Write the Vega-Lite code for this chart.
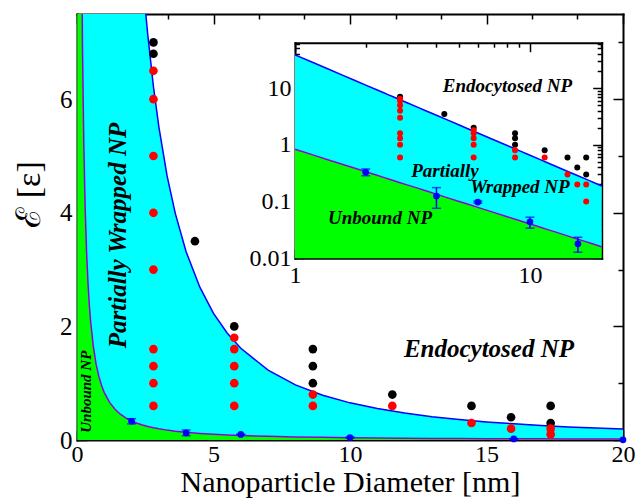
{
  "$schema": "https://vega.github.io/schema/vega-lite/v6.json",
  "width": 546,
  "height": 426,
  "autosize": "none",
  "padding": {"left": 77, "top": 14, "right": 14, "bottom": 58},
  "background": "white",
  "config": {
    "font": "Liberation Serif",
    "axis": {
      "grid": false,
      "labelFont": "Liberation Serif",
      "titleFont": "Liberation Serif",
      "labelColor": "#000000",
      "titleColor": "#000000",
      "tickColor": "#000000",
      "domainColor": "#000000",
      "domainCap": "square",
      "titleFontWeight": "normal",
      "labelOverlap": false,
      "labelFlush": false,
      "zindex": 2
    },
    "view": {"stroke": null},
    "text": {"font": "Liberation Serif", "fontStyle": "italic", "fontWeight": "bold", "color": "#000000"}
  },
  "datasets": {
    "curve": [
      {"d": 0.01, "lower": 358},
      {"d": 0.05, "lower": 43.0},
      {"d": 0.1, "lower": 17.28},
      {"d": 0.15, "lower": 10.14, "upper": 1106},
      {"d": 0.2, "lower": 6.94, "upper": 664.6},
      {"d": 0.25, "lower": 5.18, "upper": 447.8},
      {"d": 0.3, "lower": 4.07, "upper": 324.4},
      {"d": 0.35, "lower": 3.32, "upper": 246.9},
      {"d": 0.4, "lower": 2.79, "upper": 194.9},
      {"d": 0.45, "lower": 2.39, "upper": 158.2},
      {"d": 0.5, "lower": 2.08, "upper": 131.3},
      {"d": 0.6, "lower": 1.64, "upper": 95.1},
      {"d": 0.7, "lower": 1.335, "upper": 72.4},
      {"d": 0.8, "lower": 1.12, "upper": 57.1},
      {"d": 0.9, "lower": 0.959, "upper": 46.4},
      {"d": 1.0, "lower": 0.835, "upper": 38.5},
      {"d": 1.2, "lower": 0.657, "upper": 27.88},
      {"d": 1.4, "lower": 0.536, "upper": 21.22},
      {"d": 1.6, "lower": 0.45, "upper": 16.76},
      {"d": 1.8, "lower": 0.385, "upper": 13.6},
      {"d": 2.0, "lower": 0.335, "upper": 11.29},
      {"d": 2.2, "lower": 0.296, "upper": 9.54},
      {"d": 2.4, "lower": 0.264, "upper": 8.18},
      {"d": 2.5, "lower": 0.25, "upper": 7.6},
      {"d": 2.6, "lower": 0.237, "upper": 7.1},
      {"d": 2.8, "lower": 0.215, "upper": 6.22},
      {"d": 3.0, "lower": 0.197, "upper": 5.51},
      {"d": 3.3, "lower": 0.174, "upper": 4.65},
      {"d": 3.6, "lower": 0.155, "upper": 3.99},
      {"d": 4.0, "lower": 0.135, "upper": 3.31},
      {"d": 4.5, "lower": 0.115, "upper": 2.69},
      {"d": 5.0, "lower": 0.1, "upper": 2.23},
      {"d": 5.5, "lower": 0.0886, "upper": 1.883},
      {"d": 6.0, "lower": 0.079, "upper": 1.615},
      {"d": 7.0, "lower": 0.0645, "upper": 1.23},
      {"d": 8.0, "lower": 0.0541, "upper": 0.971},
      {"d": 9.0, "lower": 0.0463, "upper": 0.788},
      {"d": 10.0, "lower": 0.0403, "upper": 0.654},
      {"d": 11.0, "lower": 0.0356, "upper": 0.553},
      {"d": 12.0, "lower": 0.0317, "upper": 0.474},
      {"d": 13.0, "lower": 0.0286, "upper": 0.411},
      {"d": 14.0, "lower": 0.0259, "upper": 0.36},
      {"d": 15.0, "lower": 0.0236, "upper": 0.319},
      {"d": 16.0, "lower": 0.0217, "upper": 0.2845},
      {"d": 17.0, "lower": 0.0201, "upper": 0.2555},
      {"d": 18.0, "lower": 0.0186, "upper": 0.231},
      {"d": 19.0, "lower": 0.0173, "upper": 0.2099},
      {"d": 20.0, "lower": 0.0162, "upper": 0.1917},
      {"d": 20.2, "lower": 0.016, "upper": 0.1883}
    ],
    "sims": [
      {"d": 2.8, "E": 7.0, "state": "endocytosed"},
      {"d": 2.8, "E": 6.8, "state": "endocytosed"},
      {"d": 4.32, "E": 3.5, "state": "endocytosed"},
      {"d": 5.76, "E": 2.0, "state": "endocytosed"},
      {"d": 8.64, "E": 1.6, "state": "endocytosed"},
      {"d": 8.64, "E": 1.3, "state": "endocytosed"},
      {"d": 8.64, "E": 1.0, "state": "endocytosed"},
      {"d": 11.55, "E": 0.8, "state": "endocytosed"},
      {"d": 14.45, "E": 0.6, "state": "endocytosed"},
      {"d": 15.9, "E": 0.4, "state": "endocytosed"},
      {"d": 17.35, "E": 0.6, "state": "endocytosed"},
      {"d": 17.35, "E": 0.3, "state": "endocytosed"},
      {"d": 2.8, "E": 6.5, "state": "wrapped"},
      {"d": 2.8, "E": 6.0, "state": "wrapped"},
      {"d": 2.8, "E": 5.0, "state": "wrapped"},
      {"d": 2.8, "E": 4.0, "state": "wrapped"},
      {"d": 2.8, "E": 3.0, "state": "wrapped"},
      {"d": 2.8, "E": 1.6, "state": "wrapped"},
      {"d": 2.8, "E": 1.3, "state": "wrapped"},
      {"d": 2.8, "E": 1.0, "state": "wrapped"},
      {"d": 2.8, "E": 0.6, "state": "wrapped"},
      {"d": 5.76, "E": 1.8, "state": "wrapped"},
      {"d": 5.76, "E": 1.6, "state": "wrapped"},
      {"d": 5.76, "E": 1.3, "state": "wrapped"},
      {"d": 5.76, "E": 1.0, "state": "wrapped"},
      {"d": 5.76, "E": 0.6, "state": "wrapped"},
      {"d": 8.64, "E": 0.8, "state": "wrapped"},
      {"d": 8.64, "E": 0.6, "state": "wrapped"},
      {"d": 11.55, "E": 0.6, "state": "wrapped"},
      {"d": 14.45, "E": 0.3, "state": "wrapped"},
      {"d": 15.9, "E": 0.2, "state": "wrapped"},
      {"d": 17.35, "E": 0.2, "state": "wrapped"},
      {"d": 17.35, "E": 0.1, "state": "wrapped"}
    ],
    "unbound": [
      {"d": 2, "E": 0.33, "lo": 0.285, "hi": 0.375},
      {"d": 4, "E": 0.125, "lo": 0.076, "hi": 0.176},
      {"d": 6, "E": 0.098, "lo": 0.094, "hi": 0.102},
      {"d": 10, "E": 0.044, "lo": 0.034, "hi": 0.053},
      {"d": 16, "E": 0.018, "lo": 0.0128, "hi": 0.0235},
      {"d": 20, "E": 0.004}
    ]
  },
  "layer": [
    {
      "layer": [
        {
          "data": {"name": "curve"},
          "mark": {"type": "area", "color": "#00ff00", "clip": true},
          "encoding": {
            "x": {"field": "d", "type": "quantitative", "scale": {"domain": [0, 20], "nice": false, "zero": false},
              "axis": {"orient": "bottom", "values": [0, 5, 10, 15, 20], "format": "d", "ticks": false, "domain": true, "domainWidth": 2, "labelFont": "Liberation Serif", "labelFontSize": 24, "labelPadding": 2, "title": "Nanoparticle Diameter [nm]", "titleFont": "Liberation Serif", "titleFontSize": 30, "titleBaseline": "alphabetic", "titleY": 51}},
            "y": {"field": "lower", "type": "quantitative", "scale": {"domain": [0, 7.5], "nice": false},
              "axis": {"orient": "left", "values": [0, 2, 4, 6], "format": "d", "ticks": false, "domain": true, "domainWidth": 2, "labelFont": "Liberation Serif", "labelFontSize": 25, "labelPadding": 5, "title": "ℰ [ε]", "titleFont": "Liberation Serif", "titleFontSize": 34, "titleAlign": "center", "titleBaseline": "alphabetic", "titleAngle": 270, "titleX": -38, "titleY": 180}},
            "y2": {"datum": 0}
          }
        },
        {
          "data": {"name": "curve"},
          "mark": {"type": "area", "color": "#00ffff", "clip": true},
          "encoding": {
            "x": {"field": "d", "type": "quantitative", "scale": {"domain": [0, 20], "nice": false, "zero": false},
              "axis": {"orient": "bottom", "values": [0, 5, 10, 15, 20], "labels": false, "domain": false, "tickSize": -10, "tickWidth": 1.5, "title": null}},
            "y": {"field": "upper", "type": "quantitative", "scale": {"domain": [0, 7.5], "nice": false},
              "axis": {"orient": "left", "values": [0, 2, 4, 6], "labels": false, "domain": false, "tickSize": -10, "tickWidth": 1.5, "title": null}},
            "y2": {"field": "lower"}
          }
        },
        {
          "data": {"name": "curve"},
          "mark": {"type": "line", "color": "#0000ff", "strokeWidth": 1.5, "clip": true},
          "encoding": {
            "x": {"field": "d", "type": "quantitative", "scale": {"domain": [0, 20], "nice": false, "zero": false},
              "axis": {"orient": "bottom", "values": [1.667, 3.333, 6.667, 8.333, 11.667, 13.333, 16.667, 18.333], "labels": false, "domain": false, "tickSize": -5, "tickWidth": 1.5, "title": null}},
            "y": {"field": "upper", "type": "quantitative", "scale": {"domain": [0, 7.5], "nice": false},
              "axis": {"orient": "left", "values": [1, 3, 5, 7], "labels": false, "domain": false, "tickSize": -5, "tickWidth": 1.5, "title": null}}
          }
        },
        {
          "data": {"name": "curve"},
          "mark": {"type": "line", "color": "#9400d3", "strokeWidth": 1.5, "clip": true},
          "encoding": {
            "x": {"field": "d", "type": "quantitative", "scale": {"domain": [0, 20], "nice": false, "zero": false},
              "axis": {"orient": "top", "values": [0, 5, 10, 15, 20], "labels": false, "domain": true, "domainWidth": 2, "tickSize": -10, "tickWidth": 1.5, "title": null}},
            "y": {"field": "lower", "type": "quantitative", "scale": {"domain": [0, 7.5], "nice": false},
              "axis": {"orient": "right", "values": [0, 2, 4, 6], "labels": false, "domain": true, "domainWidth": 2, "tickSize": -10, "tickWidth": 1.5, "title": null}}
          }
        },
        {
          "data": {"name": "sims"},
          "mark": {"type": "circle", "size": 75, "opacity": 1},
          "encoding": {
            "x": {"field": "d", "type": "quantitative", "scale": {"domain": [0, 20], "nice": false, "zero": false},
              "axis": {"orient": "top", "values": [1.667, 3.333, 6.667, 8.333, 11.667, 13.333, 16.667, 18.333], "labels": false, "domain": false, "tickSize": -5, "tickWidth": 1.5, "title": null}},
            "y": {"field": "E", "type": "quantitative", "scale": {"domain": [0, 7.5], "nice": false},
              "axis": {"orient": "right", "values": [1, 3, 5, 7], "labels": false, "domain": false, "tickSize": -5, "tickWidth": 1.5, "title": null}},
            "color": {"field": "state", "type": "nominal", "scale": {"domain": ["endocytosed", "wrapped"], "range": ["#000000", "#ff0000"]}, "legend": null}
          }
        },
        {
          "data": {"name": "unbound"},
          "transform": [{"filter": "datum.lo != null"}],
          "mark": {"type": "errorbar", "color": "#0000ff", "thickness": 1.5, "ticks": {"size": 9, "color": "#0000ff"}},
          "encoding": {
            "x": {"field": "d", "type": "quantitative", "axis": null},
            "y": {"field": "lo", "type": "quantitative", "axis": null},
            "y2": {"field": "hi"}
          }
        },
        {
          "data": {"name": "unbound"},
          "mark": {"type": "circle", "size": 45, "opacity": 1, "color": "#0000ff"},
          "encoding": {
            "x": {"field": "d", "type": "quantitative", "axis": null},
            "y": {"field": "E", "type": "quantitative", "axis": null}
          }
        },
        {
          "data": {"values": [{}]},
          "mark": {"type": "text", "text": "Partially Wrapped NP", "angle": 270, "fontSize": 25, "align": "center", "baseline": "alphabetic"},
          "encoding": {
            "x": {"datum": 1.795, "type": "quantitative", "axis": null},
            "y": {"datum": 3.6, "type": "quantitative", "axis": null}
          }
        },
        {
          "data": {"values": [{}]},
          "mark": {"type": "text", "text": "Unbound NP", "angle": 270, "fontSize": 15, "align": "center", "baseline": "alphabetic"},
          "encoding": {
            "x": {"datum": 0.53, "type": "quantitative", "axis": null},
            "y": {"datum": 0.85, "type": "quantitative", "axis": null}
          }
        },
        {
          "data": {"values": [{}]},
          "mark": {"type": "text", "text": "Endocytosed NP", "fontSize": 25, "align": "center", "baseline": "alphabetic"},
          "encoding": {
            "x": {"datum": 15.09, "type": "quantitative", "axis": null},
            "y": {"datum": 1.46, "type": "quantitative", "axis": null}
          }
        }
      ],
      "resolve": {"axis": {"x": "independent", "y": "independent"}}
    },
    {
      "layer": [
        {
          "data": {"name": "curve"},
          "transform": [{"filter": "datum.d >= 1"}],
          "mark": {"type": "area", "color": "#00ff00"},
          "encoding": {
            "x": {"field": "d", "type": "quantitative", "scale": {"type": "log", "domain": [1, 20.2], "range": [218, 524.7], "nice": false},
              "axis": {"orient": "bottom", "offset": -181.7, "values": [1, 10], "format": "~g", "ticks": false, "domain": true, "domainWidth": 2, "labelFont": "Liberation Serif", "labelFontSize": 24, "labelPadding": 5, "title": null}},
            "y": {"field": "lower", "type": "quantitative", "scale": {"type": "log", "domain": [0.01, 63], "range": [244.3, 28.7], "nice": false},
              "axis": {"orient": "left", "offset": -218, "values": [0.01, 0.1, 1, 10], "format": "~g", "ticks": false, "domain": true, "domainWidth": 2, "labelFont": "Liberation Serif", "labelFontSize": 24, "labelPadding": 4, "title": null}},
            "y2": {"datum": 0.01}
          }
        },
        {
          "data": {"name": "curve"},
          "transform": [{"filter": "datum.d >= 1"}],
          "mark": {"type": "area", "color": "#00ffff"},
          "encoding": {
            "x": {"field": "d", "type": "quantitative", "scale": {"type": "log", "domain": [1, 20.2], "range": [218, 524.7], "nice": false},
              "axis": {"orient": "bottom", "offset": -181.7, "values": [1, 10], "labels": false, "domain": false, "tickSize": -9, "tickWidth": 1.5, "title": null}},
            "y": {"field": "upper", "type": "quantitative", "scale": {"type": "log", "domain": [0.01, 63], "range": [244.3, 28.7], "nice": false},
              "axis": {"orient": "left", "offset": -218, "values": [0.01, 0.1, 1, 10], "labels": false, "domain": false, "tickSize": -9, "tickWidth": 1.5, "title": null}},
            "y2": {"field": "lower"}
          }
        },
        {
          "data": {"name": "curve"},
          "transform": [{"filter": "datum.d >= 1"}],
          "mark": {"type": "line", "color": "#0000ff", "strokeWidth": 1.5},
          "encoding": {
            "x": {"field": "d", "type": "quantitative", "scale": {"type": "log", "domain": [1, 20.2], "range": [218, 524.7], "nice": false},
              "axis": {"orient": "bottom", "offset": -181.7, "values": [2, 3, 4, 5, 6, 7, 8, 9, 20], "labels": false, "domain": false, "tickSize": -4.5, "tickWidth": 1.5, "title": null}},
            "y": {"field": "upper", "type": "quantitative", "scale": {"type": "log", "domain": [0.01, 63], "range": [244.3, 28.7], "nice": false},
              "axis": {"orient": "left", "offset": -218, "values": [0.02, 0.03, 0.04, 0.05, 0.06, 0.07, 0.08, 0.09, 0.2, 0.3, 0.4, 0.5, 0.6, 0.7, 0.8, 0.9, 2, 3, 4, 5, 6, 7, 8, 9, 20, 30, 40, 50, 60], "labels": false, "domain": false, "tickSize": -4.5, "tickWidth": 1.5, "title": null}}
          }
        },
        {
          "data": {"name": "curve"},
          "transform": [{"filter": "datum.d >= 1"}],
          "mark": {"type": "line", "color": "#9400d3", "strokeWidth": 1.5},
          "encoding": {
            "x": {"field": "d", "type": "quantitative", "scale": {"type": "log", "domain": [1, 20.2], "range": [218, 524.7], "nice": false},
              "axis": {"orient": "top", "offset": -28.7, "values": [1, 10], "labels": false, "domain": true, "domainWidth": 2, "tickSize": -9, "tickWidth": 1.5, "title": null}},
            "y": {"field": "lower", "type": "quantitative", "scale": {"type": "log", "domain": [0.01, 63], "range": [244.3, 28.7], "nice": false},
              "axis": {"orient": "right", "offset": -21.3, "values": [0.01, 0.1, 1, 10], "labels": false, "domain": true, "domainWidth": 2, "tickSize": -9, "tickWidth": 1.5, "title": null}}
          }
        },
        {
          "data": {"name": "sims"},
          "mark": {"type": "circle", "size": 36, "opacity": 1},
          "encoding": {
            "x": {"field": "d", "type": "quantitative", "scale": {"type": "log", "domain": [1, 20.2], "range": [218, 524.7], "nice": false},
              "axis": {"orient": "top", "offset": -28.7, "values": [2, 3, 4, 5, 6, 7, 8, 9, 20], "labels": false, "domain": false, "tickSize": -4.5, "tickWidth": 1.5, "title": null}},
            "y": {"field": "E", "type": "quantitative", "scale": {"type": "log", "domain": [0.01, 63], "range": [244.3, 28.7], "nice": false},
              "axis": {"orient": "right", "offset": -21.3, "values": [0.02, 0.03, 0.04, 0.05, 0.06, 0.07, 0.08, 0.09, 0.2, 0.3, 0.4, 0.5, 0.6, 0.7, 0.8, 0.9, 2, 3, 4, 5, 6, 7, 8, 9, 20, 30, 40, 50, 60], "labels": false, "domain": false, "tickSize": -4.5, "tickWidth": 1.5, "title": null}},
            "color": {"field": "state", "type": "nominal", "scale": {"domain": ["endocytosed", "wrapped"], "range": ["#000000", "#ff0000"]}, "legend": null}
          }
        },
        {
          "data": {"name": "unbound"},
          "transform": [{"filter": "datum.lo != null && datum.E >= 0.01"}],
          "mark": {"type": "errorbar", "color": "#0000ff", "thickness": 1.5, "ticks": {"size": 9, "color": "#0000ff"}},
          "encoding": {
            "x": {"field": "d", "type": "quantitative", "scale": {"type": "log"}, "axis": null},
            "y": {"field": "lo", "type": "quantitative", "scale": {"type": "log"}, "axis": null},
            "y2": {"field": "hi"}
          }
        },
        {
          "data": {"name": "unbound"},
          "transform": [{"filter": "datum.E >= 0.01"}],
          "mark": {"type": "circle", "size": 45, "opacity": 1, "color": "#0000ff"},
          "encoding": {
            "x": {"field": "d", "type": "quantitative", "scale": {"type": "log"}, "axis": null},
            "y": {"field": "E", "type": "quantitative", "scale": {"type": "log"}, "axis": null}
          }
        },
        {
          "data": {"values": [{}]},
          "mark": {"type": "text", "text": "Endocytosed NP", "fontSize": 19, "align": "center", "baseline": "alphabetic"},
          "encoding": {
            "x": {"datum": 8.02, "type": "quantitative", "scale": {"type": "log"}, "axis": null},
            "y": {"datum": 8.49, "type": "quantitative", "scale": {"type": "log"}, "axis": null}
          }
        },
        {
          "data": {"values": [{}]},
          "mark": {"type": "text", "text": "Partially", "fontSize": 19, "align": "center", "baseline": "alphabetic"},
          "encoding": {
            "x": {"datum": 4.35, "type": "quantitative", "scale": {"type": "log"}, "axis": null},
            "y": {"datum": 0.27, "type": "quantitative", "scale": {"type": "log"}, "axis": null}
          }
        },
        {
          "data": {"values": [{}]},
          "mark": {"type": "text", "text": "Wrapped NP", "fontSize": 19, "align": "center", "baseline": "alphabetic"},
          "encoding": {
            "x": {"datum": 9.07, "type": "quantitative", "scale": {"type": "log"}, "axis": null},
            "y": {"datum": 0.141, "type": "quantitative", "scale": {"type": "log"}, "axis": null}
          }
        },
        {
          "data": {"values": [{}]},
          "mark": {"type": "text", "text": "Unbound NP", "fontSize": 19, "align": "center", "baseline": "alphabetic"},
          "encoding": {
            "x": {"datum": 2.3, "type": "quantitative", "scale": {"type": "log"}, "axis": null},
            "y": {"datum": 0.0403, "type": "quantitative", "scale": {"type": "log"}, "axis": null}
          }
        }
      ],
      "resolve": {"axis": {"x": "independent", "y": "independent"}}
    }
  ],
  "resolve": {"scale": {"x": "independent", "y": "independent"}}
}
